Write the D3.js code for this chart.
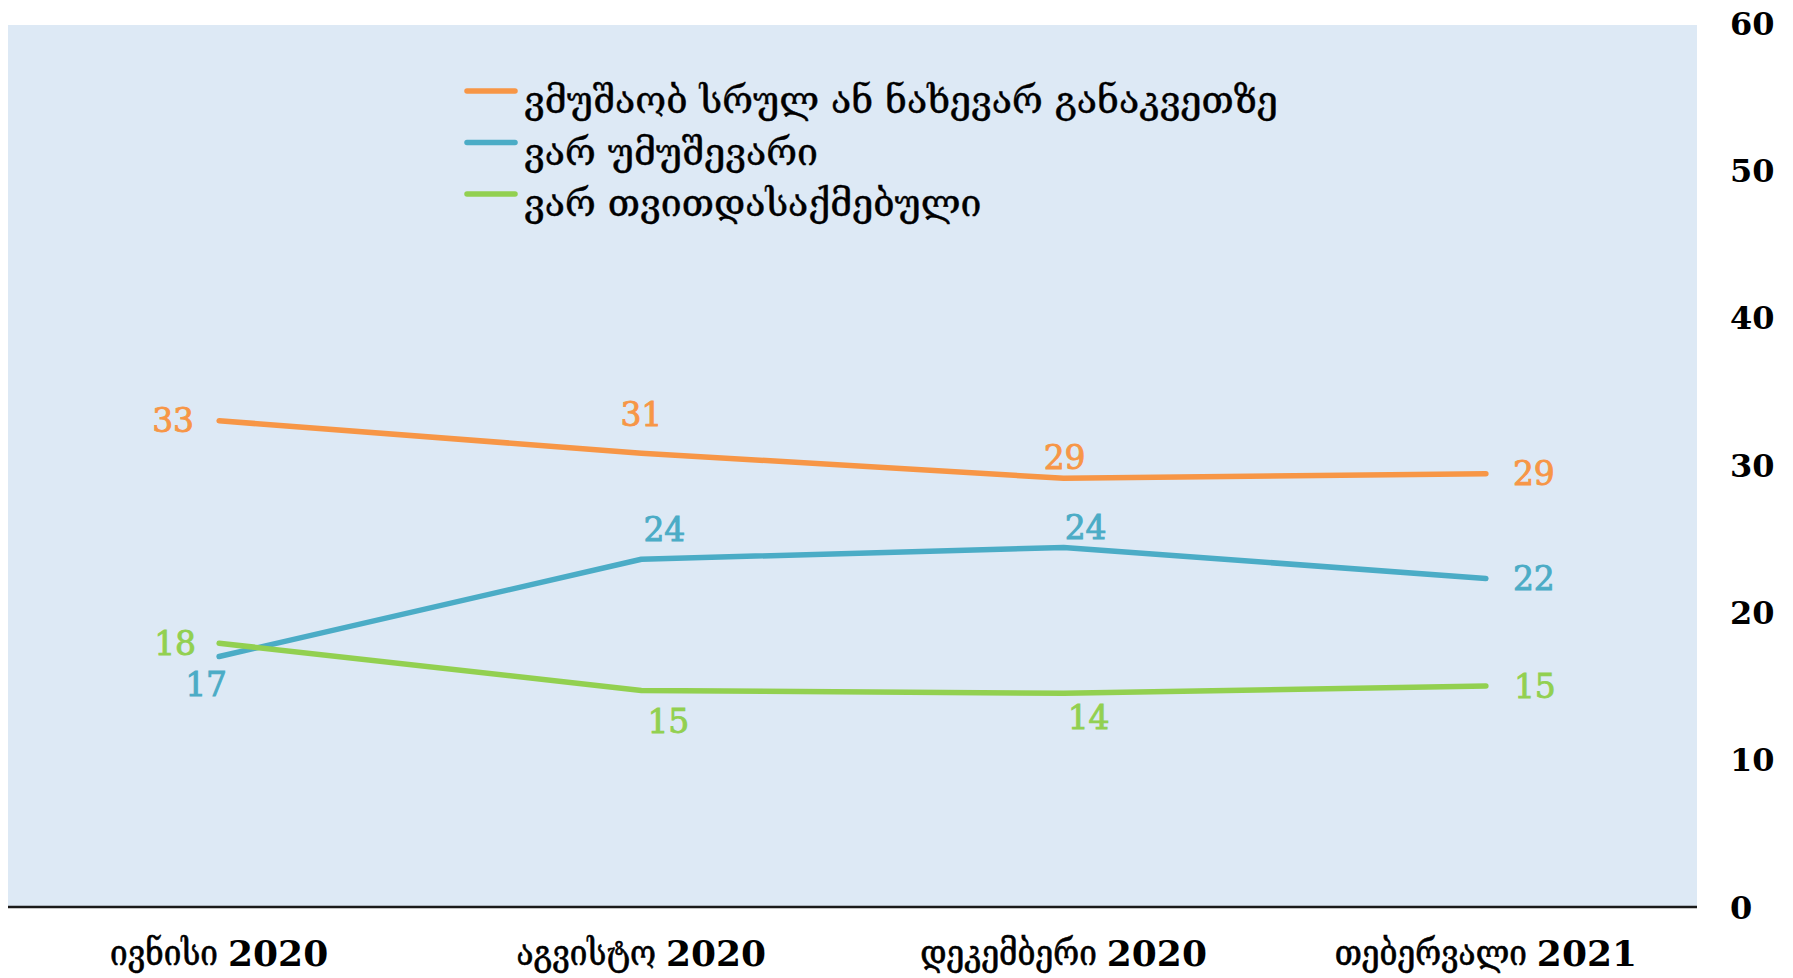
<!DOCTYPE html>
<html>
<head>
<meta charset="utf-8">
<script src="https://cdn.jsdelivr.net/npm/d3@7"></script>
<style>
  html, body { margin: 0; padding: 0; background: #ffffff; }
  svg { display: block; }
</style>
</head>
<body>
<svg id="chart" width="1793" height="978"></svg>
<script>
// ---- data ----
const categories = ["ივნისი 2020", "აგვისტო 2020", "დეკემბერი 2020", "თებერვალი 2021"];
const seriesNames = ["ვმუშაობ სრულ ან ნახევარ განაკვეთზე", "ვარ უმუშევარი", "ვარ თვითდასაქმებული"];
const employedValues = [33.0, 30.8, 29.1, 29.4];
const unemployedValues = [17.0, 23.6, 24.4, 22.3];
const selfEmployedValues = [17.9, 14.7, 14.5, 15.0];
const valueLabels = [[33, 31, 29, 29], [17, 24, 24, 22], [18, 15, 14, 15]];
const yTicks = [0, 10, 20, 30, 40, 50, 60];

// ---- style / layout ----
const colors = ["#F79646", "#4BACC6", "#92D050"];
const labelOffsets = [
  [[-46, 0], [0, -39], [1, -21], [48, 0]],
  [[-13, 28], [23, -30], [22, -20], [48, 0]],
  [[-44, 0], [27, 31], [25, 24], [49, 0]]
];
const plot = { left: 8, right: 1697, top: 23, bottom: 907 };

const svg = d3.select("#chart");
const x = d3.scaleBand().domain(categories).range([plot.left, plot.right]).padding(0);
const cx = d => x(d) + x.bandwidth() / 2;
const y = d3.scaleLinear().domain([0, 60]).range([plot.bottom, plot.top]);

// background
svg.append("rect")
  .attr("x", plot.left).attr("y", y(60) + 2)
  .attr("width", plot.right - plot.left).attr("height", y(0) - y(60) - 2)
  .attr("fill", "#DDE9F5");

// y axis (right side, labels only, left-aligned)
const yAxis = d3.axisRight(y).tickValues(yTicks).tickSize(0).tickPadding(0);
const yg = svg.append("g").attr("transform", `translate(1730,0)`).call(yAxis);
yg.select(".domain").remove();
yg.selectAll("text")
  .attr("text-anchor", "start")
  .attr("dy", "0.35em")
  .attr("font-family", "DejaVu Serif")
  .attr("font-weight", "bold")
  .attr("font-size", 32)
  .attr("fill", "#000");

// x axis line
svg.append("line")
  .attr("x1", plot.left).attr("x2", plot.right)
  .attr("y1", y(0)).attr("y2", y(0))
  .attr("stroke", "#1a1a1a").attr("stroke-width", 2.5);

// x labels
const xg = svg.append("g");
categories.forEach(c => {
  const parts = c.split(" ");
  const t = xg.append("text")
    .attr("x", cx(c)).attr("y", 953)
    .attr("text-anchor", "middle")
    .attr("dominant-baseline", "central")
    .attr("fill", "#000")
    .attr("stroke", "#000")
    .attr("stroke-width", 0.6);
  t.append("tspan").text(parts[0] + " ")
    .attr("font-family", "DejaVu Serif Condensed, DejaVu Serif")
    .attr("font-size", 35);
  t.append("tspan").text(parts[1])
    .attr("font-family", "DejaVu Serif")
    .attr("font-weight", "bold")
    .attr("stroke-width", 0)
    .attr("font-size", 36);
});

// lines
const allSeries = [employedValues, unemployedValues, selfEmployedValues];
const line = d3.line().x((d, i) => cx(categories[i])).y(d => y(d));
allSeries.forEach((vals, s) => {
  svg.append("path")
    .datum(vals)
    .attr("d", line)
    .attr("fill", "none")
    .attr("stroke", colors[s])
    .attr("stroke-width", 5.5)
    .attr("stroke-linecap", "round")
    .attr("stroke-linejoin", "round");
});

// value labels
allSeries.forEach((vals, s) => {
  svg.append("g").selectAll("text")
    .data(vals)
    .join("text")
    .attr("x", (d, i) => cx(categories[i]) + labelOffsets[s][i][0])
    .attr("y", (d, i) => y(d) + labelOffsets[s][i][1])
    .attr("text-anchor", "middle")
    .attr("dominant-baseline", "central")
    .attr("font-family", "DejaVu Serif")
    .attr("font-size", 33)
    .attr("fill", colors[s])
    .attr("stroke", colors[s])
    .attr("stroke-width", 0.9)
    .text((d, i) => valueLabels[s][i]);
});

// legend
const legendX = 467, legendY0 = 91, legendStep = 51.5;
const lg = svg.append("g");
seriesNames.forEach((name, i) => {
  const yy = legendY0 + i * legendStep;
  lg.append("line")
    .attr("x1", legendX).attr("x2", legendX + 48)
    .attr("y1", yy).attr("y2", yy)
    .attr("stroke", colors[i]).attr("stroke-width", 5.5)
    .attr("stroke-linecap", "round");
  lg.append("text")
    .attr("class", "legtext")
    .attr("x", 0).attr("y", 0)
    .attr("transform", `translate(524, ${yy + 9})`)
    .attr("font-family", "DejaVu Serif Condensed, DejaVu Serif")
    .attr("font-size", 37)
    .attr("dominant-baseline", "central")
    .attr("fill", "#000")
    .attr("stroke", "#000")
    .attr("stroke-width", 0.4)
    .text(name);
});
// horizontally fit legend to reference width
const first = lg.select(".legtext").node();
const w = first.getComputedTextLength();
const sx = 754 / w;
lg.selectAll(".legtext").each(function () {
  const t = d3.select(this);
  t.attr("transform", t.attr("transform") + ` scale(${sx},1)`);
});
</script>
</body>
</html>
